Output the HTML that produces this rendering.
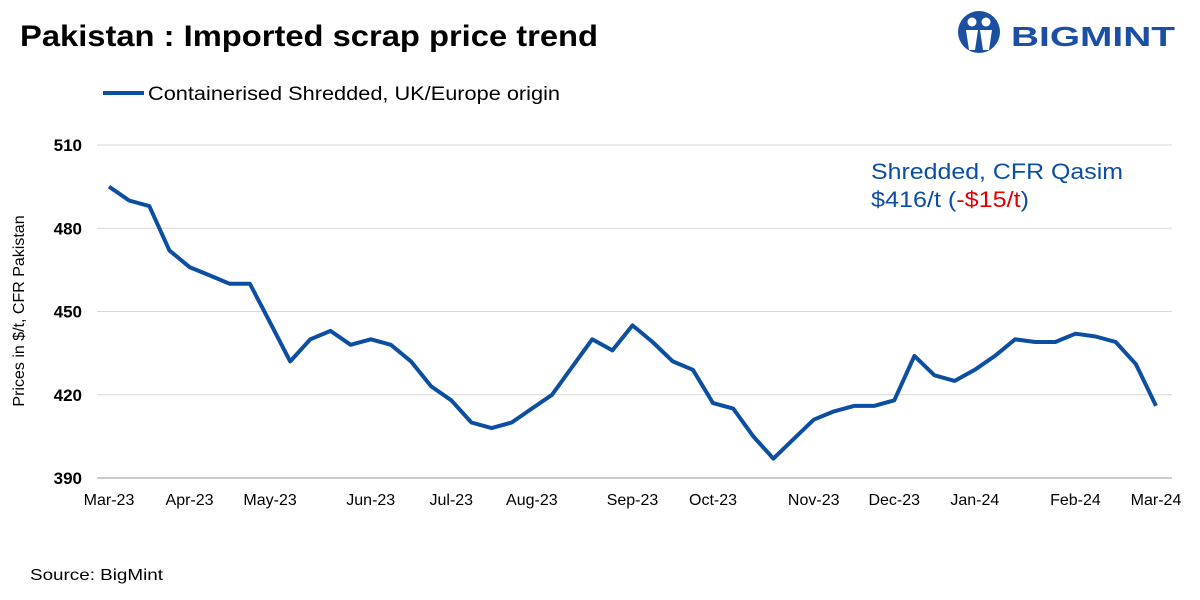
<!DOCTYPE html>
<html><head><meta charset="utf-8">
<style>
body{margin:0;background:#fff;font-family:"Liberation Sans",Arial,sans-serif;}
#wrap{position:relative;width:1200px;height:600px;overflow:hidden;}
</style></head>
<body>
<div id="wrap">
<svg id="chart" width="1200" height="600" xmlns="http://www.w3.org/2000/svg">
  <text x="20" y="46" font-size="30" font-weight="bold" fill="#000" textLength="578" lengthAdjust="spacingAndGlyphs">Pakistan : Imported scrap price trend</text>
  <g>
    <circle cx="979" cy="32" r="21" fill="#1b4fa3"/>
    <circle cx="972" cy="22" r="4.5" fill="#fff"/>
    <circle cx="986" cy="22" r="4.5" fill="#fff"/>
    <path d="M966 30 L978 30 L975 50 L969 50 Z" fill="#fff"/>
    <path d="M980 30 L992 30 L989 50 L983 50 Z" fill="#fff"/>
    <text x="1011" y="46" font-size="28" font-weight="bold" fill="#1b4fa3" textLength="164" lengthAdjust="spacingAndGlyphs">BIGMINT</text>
  </g>
  <line x1="103" y1="93" x2="144" y2="93" stroke="#0b4ea2" stroke-width="4"/>
  <text x="148" y="100" font-size="19" fill="#000" textLength="412" lengthAdjust="spacingAndGlyphs">Containerised Shredded, UK/Europe origin</text>
  <g id="grid"></g>
  <g id="yticks"></g>
  <g id="xticks"></g>
  <text transform="translate(24,311) rotate(-90)" text-anchor="middle" font-size="16" fill="#000">Prices in $/t, CFR Pakistan</text>
  <path id="series" fill="none" stroke="#0b4ea2" stroke-width="4" stroke-linejoin="round"/>
  <text x="871" y="179" font-size="22" fill="#0b4ea2" textLength="252" lengthAdjust="spacingAndGlyphs">Shredded, CFR Qasim</text>
  <text x="871" y="207" font-size="22" fill="#0b4ea2" textLength="158" lengthAdjust="spacingAndGlyphs">$416/t (<tspan fill="#e00000">-$15/t</tspan>)</text>
  <text x="30" y="580" font-size="16" fill="#000" textLength="133" lengthAdjust="spacingAndGlyphs">Source: BigMint</text>
</svg>
</div>
<script>
const values=[495,490,488,472,466,463,460,460,446,432,440,443,438,440,438,432,423,418,410,408,410,415,420,430,440,436,445,439,432,429,417,415,405,397,404,411,414,416,416,418,434,427,425,429,434,440,439,439,442,441,439,431,416];
const tickValues=[390,420,450,480,510];
const xLabels=["Mar-23","Apr-23","May-23","Jun-23","Jul-23","Aug-23","Sep-23","Oct-23","Nov-23","Dec-23","Jan-24","Feb-24","Mar-24"];
const xLabelIdx=[0,4,8,13,17,21,26,30,35,39,43,48,52];
const NS="http://www.w3.org/2000/svg";
const x0=109,x1=1156,yTop=145,yBot=478,vMin=390,vMax=510;
function xs(i){return x0+(x1-x0)*i/(values.length-1);}
function ys(v){return yBot-(v-vMin)/(vMax-vMin)*(yBot-yTop);}
const grid=document.getElementById('grid'),yt=document.getElementById('yticks'),xt=document.getElementById('xticks');
tickValues.forEach(v=>{
  const l=document.createElementNS(NS,'line');
  l.setAttribute('x1',97);l.setAttribute('x2',1172);l.setAttribute('y1',ys(v));l.setAttribute('y2',ys(v));
  l.setAttribute('stroke',v===vMin?'#999':'#d9d9d9');l.setAttribute('stroke-width',1);
  
  
  grid.appendChild(l);
  const t=document.createElementNS(NS,'text');
  t.setAttribute('x',82);t.setAttribute('y',ys(v)+6);t.setAttribute('text-anchor','end');
  t.setAttribute('font-size',17);t.setAttribute('font-weight','bold');t.textContent=v;
  
  
  yt.appendChild(t);
});
xLabels.forEach((s,k)=>{
  const t=document.createElementNS(NS,'text');
  t.setAttribute('x',xs(xLabelIdx[k]));t.setAttribute('y',505);t.setAttribute('text-anchor','middle');
  t.setAttribute('font-size',16);t.textContent=s;
  
  
  xt.appendChild(t);
});
document.getElementById('series').setAttribute('d',values.map((v,i)=>(i?'L':'M')+xs(i).toFixed(1)+' '+ys(v).toFixed(1)).join(' '));
</script>
</body></html>
